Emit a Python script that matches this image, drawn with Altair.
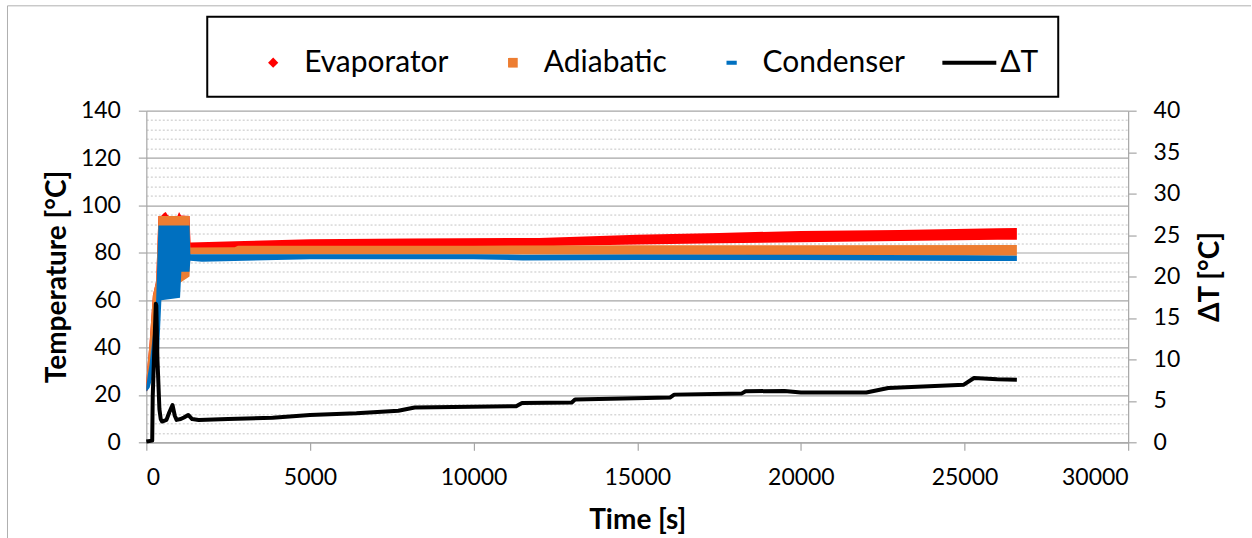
import altair as alt
import pandas as pd

FONT = "Lato"
GRAY = "#a6a6a6"
MINOR = "#c4c4c4"

# ---------------- data ----------------
series_names = ["Evaporator", "Adiabatic", "Condenser", "ΔT"]
series_colors = ["#ff0000", "#ed7d31", "#0070c0", "#000000"]

time_ticks = [0, 5000, 10000, 15000, 20000, 25000, 30000]
temp_ticks = [0, 4, 8, 12, 16, 20, 24, 28, 32, 36, 40, 44, 48, 52, 56, 60, 64, 68,
              72, 76, 80, 84, 88, 92, 96, 100, 104, 108, 112, 116, 120, 124, 128,
              132, 136, 140]
dt_ticks = [0, 5, 10, 15, 20, 25, 30, 35, 40]

# Evaporator (band of dense markers: lower / upper edge)
evap_t = [0, 40, 100, 200, 300, 370, 450, 540, 595, 650, 700, 950, 1000, 1060,
          1320, 1350, 3000, 5000, 8000, 12000, 15000, 17500, 20000, 23000, 26000, 26600]
evap_lo = [21.5, 22, 25, 30, 45, 58, 75, 75, 75, 75, 75, 75, 75, 75,
           75, 81, 81.5, 82, 82.5, 82.8, 83.5, 84, 84.5, 85, 85.5, 85.5]
evap_hi = [25.5, 33, 42, 62, 68, 95.5, 95.5, 96.8, 97.2, 96.0, 95.5, 95.5, 97.2, 95.8,
           95.5, 84.3, 85.0, 85.7, 86.0, 86.3, 87.6, 88.4, 89.2, 89.6, 90.4, 90.5]

# Adiabatic
adia_t = [0, 40, 100, 200, 300, 370, 450, 1320, 1345, 2700, 2800, 5000, 10000,
          15000, 20000, 26600]
adia_lo = [21.5, 22, 25, 30, 45, 58, 62, 70, 79.4, 79.4, 79.4, 79.3, 79.3,
           79.2, 79.0, 78.8]
adia_hi = [25.3, 33, 42, 62, 68, 95.5, 95.5, 95.5, 82.2, 82.3, 83.0, 83.0, 83.0,
           83.2, 83.2, 83.3]

# Condenser
cond_t = [0, 40, 100, 200, 300, 370, 460, 1030, 1070, 1320, 1345, 1700, 5000,
          10000, 11500, 15000, 20000, 25000, 26600]
cond_lo = [21.4, 22, 23, 28, 33, 33, 60, 61, 72, 72, 76.6, 76.2, 77.3,
           77.3, 76.8, 77.0, 77.0, 76.5, 76.5]
cond_hi = [23.3, 28, 33, 45, 60, 91.5, 91.5, 91.5, 91.5, 91.5, 79.4, 79.4, 79.4,
           79.4, 79.2, 79.3, 79.2, 79.0, 78.8]

# Delta T (right axis)
dt_t = [0, 180, 195, 290, 305, 340, 400, 440, 480, 615, 700, 800, 870, 925, 1050,
        1150, 1280, 1400, 1600, 2500, 3860, 5000, 6420, 7700, 8200, 11300, 11480,
        13000, 13100, 16000, 16130, 18200, 18310, 19500, 20000, 21100, 22000, 22670,
        24980, 25290, 26000, 26600]
dt_v = [0.1, 0.2, 5.5, 16.7, 16.5, 10.0, 4.0, 2.8, 2.5, 2.7, 3.6, 4.5, 3.2, 2.7, 2.8,
        3.0, 3.3, 2.8, 2.7, 2.8, 2.95, 3.3, 3.5, 3.8, 4.2, 4.35, 4.75,
        4.8, 5.15, 5.4, 5.75, 5.9, 6.15, 6.2, 6.0, 6.0, 6.0, 6.55,
        6.95, 7.75, 7.6, 7.55]

# legend symbol paths (unit box scaled by sqrt(symbolSize)/2)
legend_shapes = [
    "M0,-0.19L0.19,0L0,0.19L-0.19,0Z",
    "M-0.18,-0.18L0.18,-0.18L0.18,0.18L-0.18,0.18Z",
    "M-0.19,-0.075L0.19,-0.075L0.19,0.075L-0.19,0.075Z",
    "M-1,-0.075L1,-0.075L1,0.075L-1,0.075Z",
]

evap_df = pd.DataFrame({"t": evap_t, "lo": evap_lo, "hi": evap_hi})
adia_df = pd.DataFrame({"t": adia_t, "lo": adia_lo, "hi": adia_hi})
cond_df = pd.DataFrame({"t": cond_t, "lo": cond_lo, "hi": cond_hi})
dt_df = pd.DataFrame({"t": dt_t, "v": dt_v})
legend_df = pd.DataFrame({"series": series_names})
frame_df = pd.DataFrame({"k": [0]})

# ---------------- scales & axes ----------------
x_scale = alt.Scale(domain=[0, 30000], nice=False)
y_scale = alt.Scale(domain=[0, 140], nice=False)
dt_scale = alt.Scale(domain=[0, 40], nice=False)

MAJOR = "datum.value % 20 === 0"

x_axis = alt.Axis(
    title="Time [s]", values=time_ticks, format="d", grid=False,
    labelFont=FONT, labelFontSize=23, labelColor="black", labelPadding=16,
    tickSize=8, tickColor=GRAY, tickWidth=1.2, domainColor=GRAY, domainWidth=1.2,
    titleFont=FONT, titleFontSize=28, titleFontWeight="bold", titleColor="black",
    titlePadding=17,
)

y_axis = alt.Axis(
    title="Temperature [°C]", values=temp_ticks, orient="left",
    labelExpr=f"{MAJOR} ? datum.label : ''",
    labelFont=FONT, labelFontSize=23, labelColor="black", labelPadding=18,
    tickSize=8, tickColor=GRAY, tickWidth=1.2,
    tickOpacity={"condition": {"test": MAJOR, "value": 1}, "value": 0},
    domainColor=GRAY, domainWidth=1.2,
    grid=True,
    gridColor={"condition": {"test": MAJOR, "value": GRAY}, "value": MINOR},
    gridWidth={"condition": {"test": MAJOR, "value": 1.2}, "value": 1},
    gridDash={"condition": {"test": MAJOR, "value": []}, "value": [2, 2]},
    titleFont=FONT, titleFontSize=28, titleFontWeight="bold", titleColor="black",
    titlePadding=9,
)

dt_axis = alt.Axis(
    title="ΔT [°C]", values=dt_ticks, orient="right", grid=False,
    labelFont=FONT, labelFontSize=23, labelColor="black", labelPadding=17,
    tickSize=8, tickColor=GRAY, tickWidth=1.2, domainColor=GRAY, domainWidth=1.2,
    titleFont=FONT, titleFontSize=28, titleFontWeight="bold", titleColor="black",
    titleAngle=270, titleBaseline="top", titlePadding=17,
)

legend = alt.Legend(
    title=None, orient="none", legendX=61, legendY=-94,
    direction="horizontal", columns=4, symbolSize=2916, symbolStrokeWidth=0,
    symbolOffset=20, symbolOpacity=1, labelFont=FONT, labelFontSize=30,
    labelColor="black", labelOffset=4, labelLimit=400, columnPadding=17,
    padding=19, strokeColor="black",
)

# ---------------- layers ----------------
def band(df, color):
    return alt.Chart(df).mark_area(color=color, interpolate="linear").encode(
        x=alt.X("t:Q", scale=x_scale, axis=x_axis),
        y=alt.Y("lo:Q", scale=y_scale, axis=y_axis),
        y2="hi:Q",
    )

frame_left = alt.Chart(frame_df).mark_rule(color="#b0b0b0", strokeWidth=1).encode(
    x=alt.value(-139), y=alt.value(-105), y2=alt.value(428))
frame_top = alt.Chart(frame_df).mark_rule(color="#b0b0b0", strokeWidth=1).encode(
    x=alt.value(-139), x2=alt.value(1106), y=alt.value(-105))

legend_layer = alt.Chart(legend_df).mark_point(filled=True, opacity=0).encode(
    x=alt.value(0), y=alt.value(0),
    color=alt.Color("series:N", scale=alt.Scale(domain=series_names, range=series_colors), legend=legend),
    shape=alt.Shape("series:N", scale=alt.Scale(domain=series_names, range=legend_shapes), legend=legend),
)

temp_layers = alt.layer(
    band(evap_df, series_colors[0]),
    band(adia_df, series_colors[1]),
    band(cond_df, series_colors[2]),
    legend_layer,
    frame_left,
    frame_top,
)

dt_line = alt.Chart(dt_df).mark_line(color="black", strokeWidth=4, strokeJoin="round").encode(
    x=alt.X("t:Q", scale=x_scale, axis=x_axis),
    y=alt.Y("v:Q", scale=dt_scale, axis=dt_axis),
)

chart = (
    alt.layer(temp_layers, dt_line)
    .resolve_scale(y="independent")
    .properties(width=983, height=332,
                padding={"left": 6.5, "top": 4.5, "right": 0, "bottom": 0},
                background="white")
    .configure(font=FONT)
    .configure_view(strokeWidth=0)
    .configure_legend(strokeWidth=2)
)

chart.save("out.html", embed_options={"renderer": "svg", "actions": False})
